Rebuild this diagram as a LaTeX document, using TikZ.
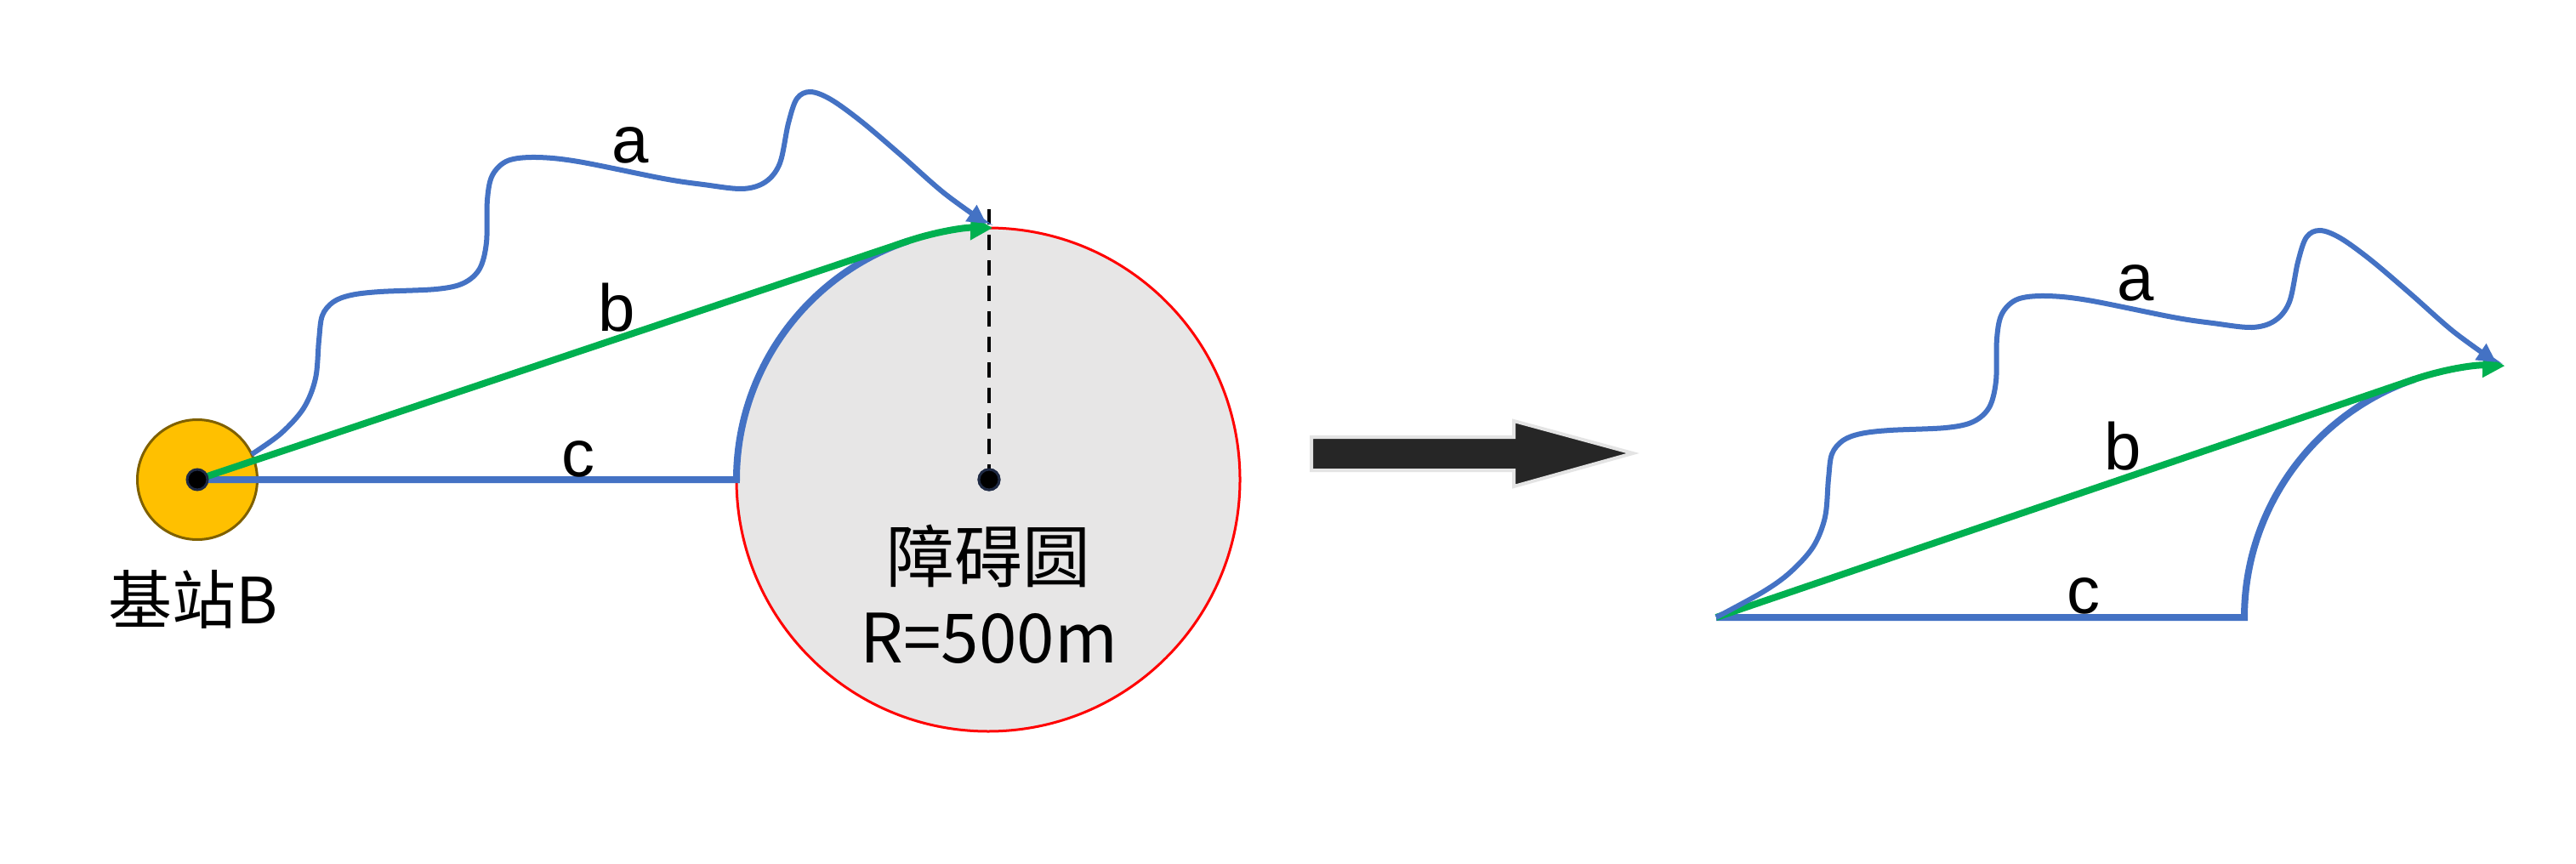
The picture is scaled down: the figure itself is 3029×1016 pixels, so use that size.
\documentclass[tikz,border=0pt]{standalone}
\usepackage{fontspec}
\setmainfont{Liberation Sans}
\newfontfamily\cjk{Noto Sans CJK SC}
\usetikzlibrary{arrows.meta,calc}
\definecolor{myblue}{HTML}{4472C4}
\definecolor{mygreen}{HTML}{00B050}
\definecolor{myyellow}{HTML}{FFC000}
\definecolor{mybrown}{HTML}{7F6000}
\definecolor{mygray}{HTML}{E7E6E6}
\definecolor{myred}{HTML}{FF0000}
\definecolor{myblack}{HTML}{262626}
\definecolor{myoutline}{HTML}{E4E4E4}
\definecolor{mynavy}{HTML}{1F2A44}
\begin{document}
\begin{tikzpicture}[x=1pt,y=1pt,
  wave/.style={draw=myblue,line width=6pt,-{Triangle[length=22pt,width=22pt]}},
  pathb/.style={draw=mygreen,line width=8pt,-{Triangle[length=26pt,width=28pt]}},
  pathc/.style={draw=myblue,line width=8pt},
  lbl/.style={font=\fontsize{78}{80}\selectfont,inner sep=0pt},
  cjklbl/.style={font=\cjk\fontsize{80}{96}\selectfont,inner sep=0pt},
  dot/.style={circle,fill=black,draw=mynavy,line width=3pt,minimum size=24pt,inner sep=0pt},
]
\fill[white] (0,0) rectangle (3029,-1016);
\useasboundingbox (0,0) rectangle (3029,-1016);

% ---------- left figure ----------
\node[circle,fill=mygray,draw=myred,line width=3pt,minimum size=592pt,inner sep=0pt,outer sep=0pt] (obst) at (1162,-564) {};
\node[circle,fill=myyellow,draw=mybrown,line width=3pt,minimum size=141pt,inner sep=0pt,outer sep=0pt] (B) at (232,-564) {};

\coordinate (Otop) at (1163,-243);
\node[dot] (O) at (1163,-564) {};
\draw[black,line width=4pt,dash pattern=on 18pt off 12pt] (O.center) -- (Otop);
\node[dot] at (O.center) {};

\coordinate (T1) at ($(obst.center)+(108.56:296)$);
\coordinate (Aend) at (1160,-263);

\draw[pathc] (B.center) -- (obst.west) arc[start angle=180,end angle=108.56,radius=296];
\draw[pathb] (B.center) -- (T1) arc[start angle=108.56,end angle=89,radius=296];
\draw[wave] plot[smooth,tension=0.55] coordinates {(B.25) (330,-510) (357,-480) (371,-445) (375,-400) (379,-371) (392,-355) (413,-347) (447,-343) (513,-340) (545,-333) (564,-316) (572,-285) (573,-235) (579,-206) (597,-189) (630,-185) (680,-190) (780,-210) (827,-217) (873,-222) (900,-214) (917,-192) (927,-145) (937,-116) (953,-108) (977,-117) (1013,-143) (1060,-183) (1110,-227) (Aend)};

\node[dot] (Bd) at (B.center) {};

\node[lbl] (la) at (741,-171) {a};
\node[lbl] (lb) at (725,-362) {b};
\node[lbl] (lc) at (680,-540) {c};

\node[cjklbl,font=\cjk\fontsize{75}{90}\selectfont] (lB) at (227,-705) {基站B};
\node[cjklbl] (lobst) at (1162,-654) {障碍圆};
\node[cjklbl] (lR) at (1163,-751) {R=500m};

% ---------- block arrow ----------
\draw[fill=myblack,draw=myoutline,line width=4pt] (1542,-514) -- (1780,-514) -- (1780,-495) -- (1920,-533) -- (1780,-572) -- (1780,-553) -- (1542,-553) -- cycle;

% ---------- right figure ----------
\coordinate (R0) at (2018,-726);
\coordinate (C2) at (2935,-726);
\coordinate (R1) at (2639,-726);
\coordinate (T2) at ($(C2)+(108.83:296)$);
\coordinate (A2end) at (2935,-426);

\draw[pathc] (R0) -- (R1) arc[start angle=180,end angle=108.83,radius=296];
\draw[pathb] (R0) -- (T2) arc[start angle=108.83,end angle=88,radius=296];
\begin{scope}[shift={(1775,-163)}]
\draw[wave] plot[smooth,tension=0.55] coordinates {(R0) (298,-533) (330,-510) (357,-480) (371,-445) (375,-400) (379,-371) (392,-355) (413,-347) (447,-343) (513,-340) (545,-333) (564,-316) (572,-285) (573,-235) (579,-206) (597,-189) (630,-185) (680,-190) (780,-210) (827,-217) (873,-222) (900,-214) (917,-192) (927,-145) (937,-116) (953,-108) (977,-117) (1013,-143) (1060,-183) (1110,-227) (A2end)};
\end{scope}

\node[lbl] (ra) at (2511,-333) {a};
\node[lbl] (rb) at (2496,-525) {b};
\node[lbl] (rc) at (2450,-701) {c};
\end{tikzpicture}
\end{document}
